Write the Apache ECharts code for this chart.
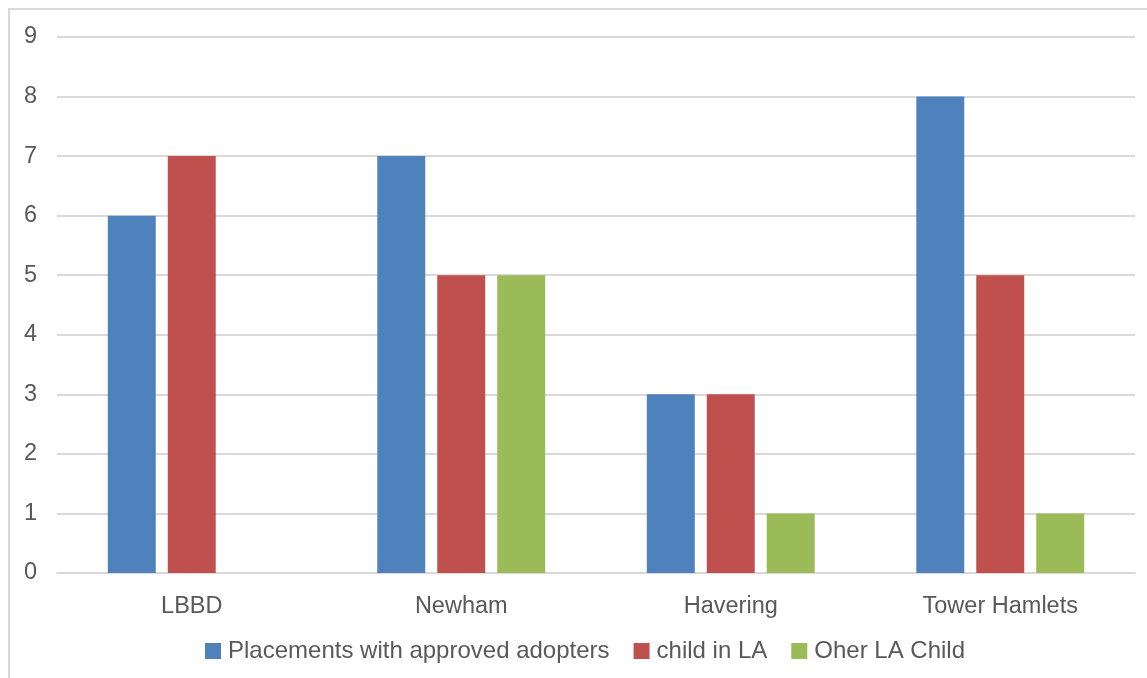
<!DOCTYPE html>
<html>
<head>
<meta charset="utf-8">
<script src="https://cdn.jsdelivr.net/npm/echarts@6/dist/echarts.min.js"></script>
<style>
  html, body { margin: 0; padding: 0; background: #fff; }
  #chart { width: 1147px; height: 678px; }
</style>
</head>
<body>
<div id="chart"></div>
<script>
// Adoption placements by local authority
const categories = ['LBBD', 'Newham', 'Havering', 'Tower Hamlets'];
const seriesNames = ['Placements with approved adopters', 'child in LA', 'Oher LA Child'];
const placementsApproved = [6, 7, 3, 8];
const childInLA = [7, 5, 3, 5];
const otherLAChild = [null, 5, 1, 1];
const yTicks = [0, 1, 2, 3, 4, 5, 6, 7, 8, 9];

const colors = ['#4f81bd', '#c0504d', '#9bbb59'];
const textColor = '#595959';
const fontFamily = '"Liberation Sans", Arial, sans-serif';

const chart = echarts.init(document.getElementById('chart'), null, { renderer: 'canvas' });

chart.setOption({
  animation: false,
  backgroundColor: '#fff',
  color: colors,
  textStyle: { fontFamily: fontFamily, color: textColor },
  graphic: [{
    type: 'rect',
    shape: { x: 9, y: 9, width: 1160, height: 700 },
    style: { fill: 'none', stroke: '#d9d9d9', lineWidth: 2 },
    silent: true,
    z: -1
  }],
  grid: { left: 57, right: 12, top: 37, bottom: 105, containLabel: false },
  legend: {
    data: seriesNames,
    top: 639,
    left: 205,
    padding: 0,
    icon: 'rect',
    itemWidth: 16,
    itemHeight: 16,
    itemGap: 24,
    textStyle: { fontSize: 24, color: textColor, fontFamily: fontFamily, padding: [0, 0, 0, 2] }
  },
  xAxis: {
    type: 'category',
    data: categories,
    axisLine: { show: true, lineStyle: { color: '#d9d9d9', width: 2 } },
    axisTick: { show: false },
    axisLabel: { fontSize: 23.5, color: textColor, margin: 22, fontFamily: fontFamily }
  },
  yAxis: {
    type: 'value',
    min: yTicks[0],
    max: yTicks[yTicks.length - 1],
    interval: 1,
    axisLine: { show: false },
    axisTick: { show: false },
    axisLabel: { fontSize: 23.5, color: textColor, margin: 20, fontFamily: fontFamily },
    splitLine: { lineStyle: { color: '#d9d9d9', width: 2 } }
  },
  series: [
    { name: seriesNames[0], type: 'bar', data: placementsApproved, barGap: '25%', barCategoryGap: '37.7%' },
    { name: seriesNames[1], type: 'bar', data: childInLA, barGap: '25%', barCategoryGap: '37.7%' },
    { name: seriesNames[2], type: 'bar', data: otherLAChild, barGap: '25%', barCategoryGap: '37.7%' }
  ]
});
</script>
</body>
</html>
